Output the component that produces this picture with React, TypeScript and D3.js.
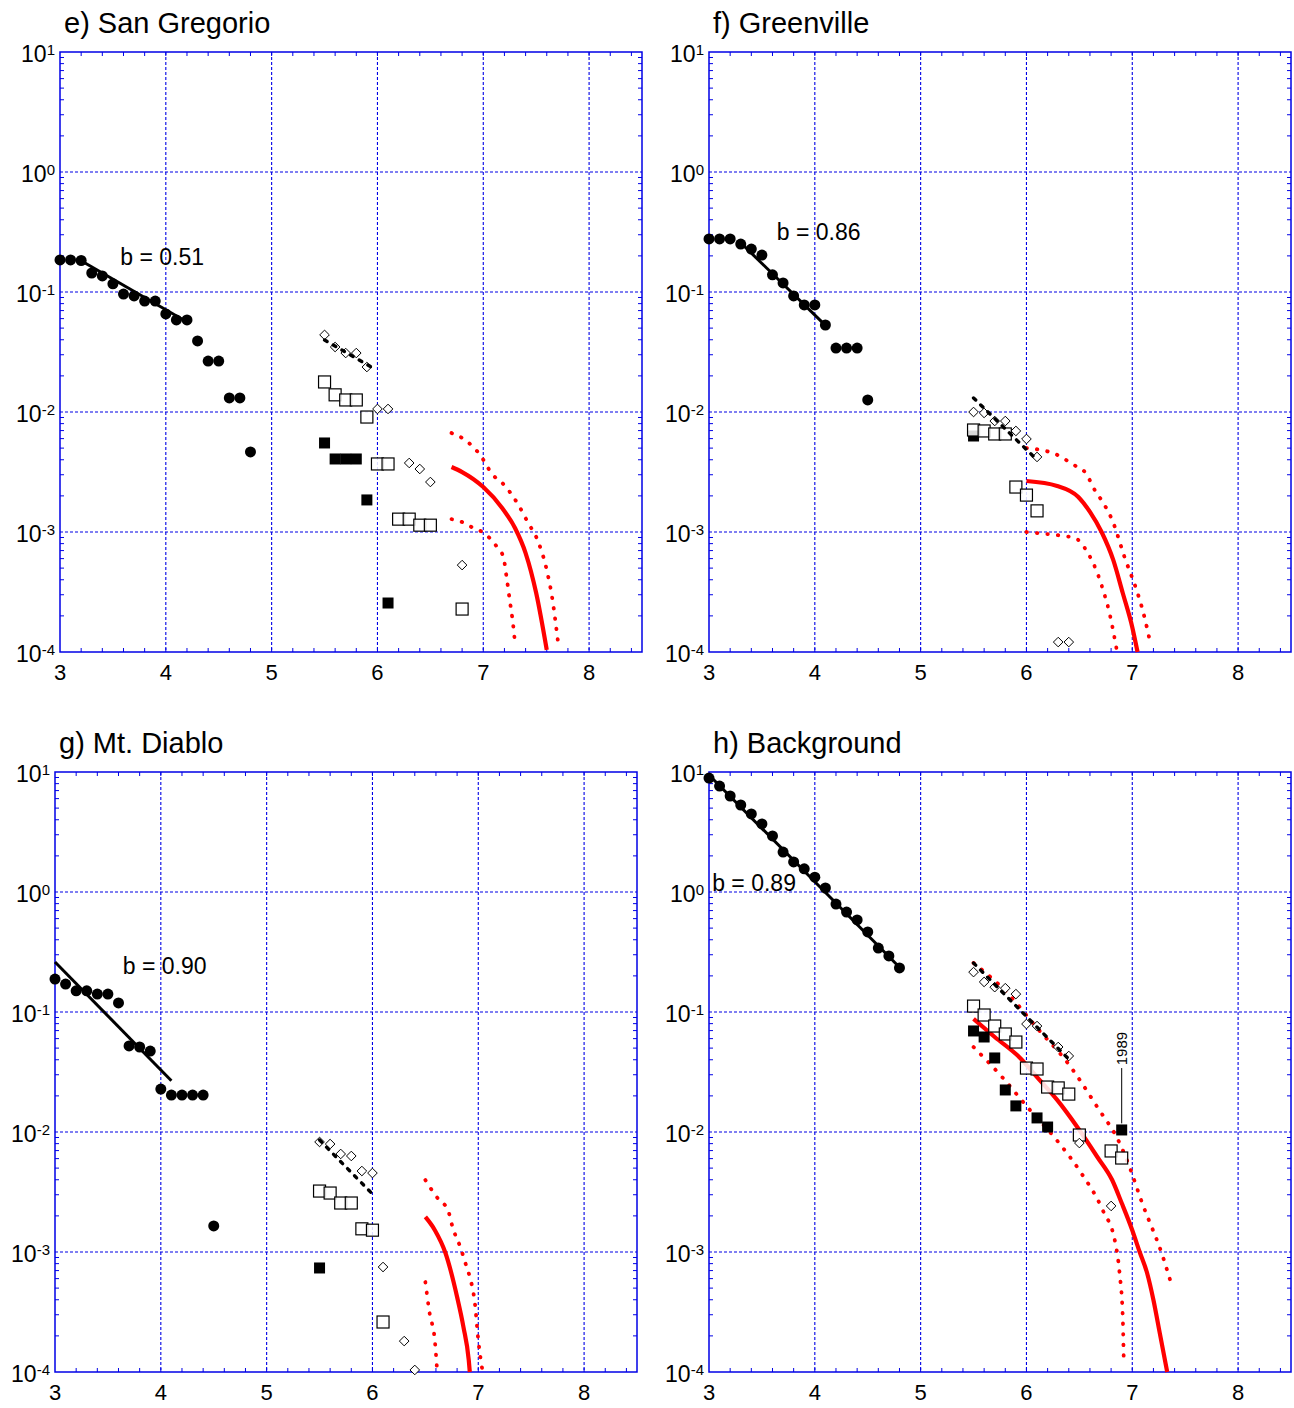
import React, { useEffect, useRef } from 'react';
import * as d3 from 'd3';

// e) San Gregorio
const sgCircM = [3.0, 3.1, 3.2, 3.3, 3.4, 3.5, 3.6, 3.7, 3.8, 3.9, 4.0, 4.1, 4.2, 4.3, 4.4, 4.5, 4.6, 4.7, 4.8];
const sgCircN = [0.185, 0.185, 0.183, 0.144, 0.136, 0.117, 0.0962, 0.0927, 0.0841, 0.0841, 0.0656, 0.0585, 0.0585, 0.0391, 0.0266, 0.0266, 0.0131, 0.0131, 0.00465];
const sgDiaM = [5.5, 5.6, 5.7, 5.8, 5.9, 6.0, 6.1, 6.3, 6.4, 6.5, 6.8];
const sgDiaN = [0.0439, 0.0348, 0.031, 0.031, 0.0237, 0.0106, 0.0106, 0.00376, 0.00335, 0.00261, 0.00053];
const sgOpenM = [5.5, 5.6, 5.7, 5.8, 5.9, 6.0, 6.1, 6.2, 6.3, 6.4, 6.5, 6.8];
const sgOpenN = [0.0178, 0.0139, 0.0126, 0.0126, 0.00908, 0.00369, 0.00369, 0.00128, 0.00128, 0.00114, 0.00114, 0.000228];
const sgFillM = [5.5, 5.6, 5.7, 5.8, 5.9, 6.1];
const sgFillN = [0.00552, 0.00406, 0.00406, 0.00406, 0.00185, 0.000256];
const sgRedM = [6.7, 6.8, 7.0, 7.18, 7.3, 7.4, 7.5, 7.6];
const sgRedN = [0.00348, 0.00316, 0.00237, 0.00158, 0.00108, 0.000668, 0.00031, 0.000104];
const sgUpM = [6.7, 6.8, 6.97, 7.09, 7.18, 7.32, 7.42, 7.52, 7.6, 7.65, 7.71];
const sgUpN = [0.00668, 0.00607, 0.00439, 0.00299, 0.00256, 0.00175, 0.00121, 0.000826, 0.000482, 0.000287, 0.000114];
const sgLoM = [6.7, 6.8, 6.89, 6.99, 7.06, 7.13, 7.19, 7.22, 7.25, 7.28, 7.3];
const sgLoN = [0.00128, 0.00121, 0.0011, 0.001, 0.000891, 0.00075, 0.000619, 0.000422, 0.000271, 0.000175, 0.000119];

// f) Greenville
const gvCircM = [3.0, 3.1, 3.2, 3.3, 3.4, 3.5, 3.6, 3.7, 3.8, 3.9, 4.0, 4.1, 4.2, 4.3, 4.4, 4.5];
const gvCircN = [0.277, 0.277, 0.277, 0.251, 0.228, 0.203, 0.139, 0.119, 0.0927, 0.078, 0.078, 0.0531, 0.0341, 0.0341, 0.0341, 0.0126];
const gvDiaM = [5.5, 5.6, 5.7, 5.8, 5.9, 6.0, 6.1, 6.3, 6.4];
const gvDiaN = [0.01, 0.00982, 0.00841, 0.00841, 0.00695, 0.00596, 0.00422, 0.000121, 0.000121];
const gvOpenM = [5.5, 5.6, 5.7, 5.8, 5.9, 6.0, 6.1];
const gvOpenN = [0.00708, 0.00695, 0.00656, 0.00656, 0.00237, 0.00203, 0.0015];
const gvFillM = [5.5];
const gvFillN = [0.00631];
const gvRedM = [6.0, 6.29, 6.49, 6.6, 6.71, 6.82, 6.91, 7.0, 7.05];
const gvRedN = [0.00266, 0.00242, 0.00196, 0.00147, 0.001, 0.000585, 0.00031, 0.000161, 0.0001];
const gvUpM = [6.0, 6.27, 6.45, 6.56, 6.65, 6.72, 6.81, 6.93, 7.05, 7.09, 7.15, 7.17];
const gvUpN = [0.00501, 0.00447, 0.00361, 0.0031, 0.0022, 0.00178, 0.00126, 0.000607, 0.00031, 0.000237, 0.000144, 0.000119];
const gvLoM = [6.0, 6.1, 6.35, 6.46, 6.58, 6.67, 6.73, 6.78, 6.85];
const gvLoN = [0.001, 0.00098, 0.000927, 0.000891, 0.000668, 0.000455, 0.000316, 0.00022, 0.000108];

// g) Mt. Diablo
const mdCircM = [3.0, 3.1, 3.2, 3.3, 3.4, 3.5, 3.6, 3.7, 3.8, 3.9, 4.0, 4.1, 4.2, 4.3, 4.4, 4.5];
const mdCircN = [0.188, 0.171, 0.15, 0.15, 0.141, 0.141, 0.119, 0.0521, 0.0511, 0.0473, 0.0228, 0.0203, 0.0203, 0.0203, 0.0203, 0.00165];
const mdDiaM = [5.5, 5.6, 5.7, 5.8, 5.9, 6.0, 6.1, 6.3, 6.4];
const mdDiaN = [0.00826, 0.00794, 0.00656, 0.00631, 0.00473, 0.00455, 0.00075, 0.000181, 0.000104];
const mdOpenM = [5.5, 5.6, 5.7, 5.8, 5.9, 6.0, 6.1];
const mdOpenN = [0.00322, 0.0031, 0.00256, 0.00256, 0.00156, 0.00152, 0.000261];
const mdFillM = [5.5];
const mdFillN = [0.000736];
const mdRedM = [6.5, 6.59, 6.69, 6.8, 6.86, 6.91, 6.92];
const mdRedN = [0.00196, 0.00152, 0.000982, 0.000422, 0.000237, 0.000126, 0.0001];
const mdUpM = [6.5, 6.56, 6.63, 6.71, 6.76, 6.83, 6.89, 6.92, 6.97, 7.0, 7.04];
const mdUpN = [0.00398, 0.00329, 0.00271, 0.00228, 0.00158, 0.0011, 0.00075, 0.000619, 0.000361, 0.000185, 0.000102];
const mdLoM = [6.5, 6.54, 6.59, 6.61];
const mdLoN = [0.000562, 0.00031, 0.000181, 0.000106];

// h) Background
const bgCircM = [3.0, 3.1, 3.2, 3.3, 3.4, 3.5, 3.6, 3.7, 3.8, 3.9, 4.0, 4.1, 4.2, 4.3, 4.4, 4.5, 4.6, 4.7, 4.8];
const bgCircN = [8.91, 7.64, 6.31, 5.31, 4.47, 3.69, 2.93, 2.15, 1.78, 1.56, 1.33, 1.08, 0.794, 0.681, 0.585, 0.465, 0.341, 0.293, 0.233];
const bgDiaM = [5.5, 5.6, 5.7, 5.8, 5.9, 6.0, 6.1, 6.3, 6.4, 6.5, 6.8];
const bgDiaN = [0.215, 0.178, 0.161, 0.158, 0.141, 0.0794, 0.0764, 0.0511, 0.043, 0.00809, 0.00242];
const bgOpenM = [5.5, 5.6, 5.7, 5.8, 5.9, 6.0, 6.1, 6.2, 6.3, 6.4, 6.5, 6.8, 6.9];
const bgOpenN = [0.112, 0.0944, 0.0764, 0.0656, 0.0562, 0.0341, 0.0335, 0.0237, 0.0233, 0.0207, 0.00944, 0.00695, 0.00607];
const bgFillM = [5.5, 5.6, 5.7, 5.8, 5.9, 6.1, 6.2, 6.9];
const bgFillN = [0.0695, 0.0619, 0.0414, 0.0224, 0.0165, 0.0131, 0.011, 0.0104];
const bgRedM = [5.5, 5.7, 5.94, 6.1, 6.29, 6.48, 6.67, 6.81, 6.9, 7.0, 7.07, 7.14, 7.2, 7.26, 7.33];
const bgRedN = [0.0875, 0.0619, 0.0414, 0.0287, 0.0185, 0.011, 0.00619, 0.00398, 0.00256, 0.00152, 0.001, 0.000668, 0.000398, 0.000211, 0.0001];
const bgUpM = [5.5, 5.82, 6.1, 6.39, 6.67, 6.88, 6.96, 7.09, 7.29, 7.38];
const bgUpN = [0.256, 0.144, 0.0736, 0.0376, 0.0161, 0.00809, 0.00552, 0.00261, 0.000908, 0.000501];
const bgLoM = [5.5, 5.77, 6.01, 6.3, 6.51, 6.72, 6.84, 6.88, 6.91, 6.92];
const bgLoN = [0.0511, 0.0287, 0.0161, 0.00826, 0.00465, 0.00224, 0.00119, 0.000668, 0.000287, 0.000119];

const xTickVals = [3, 4, 5, 6, 7, 8];
const yTickVals = [1e-4, 1e-3, 1e-2, 1e-1, 1, 10];
const yTickExp = ['-4', '-3', '-2', '-1', '0', '1'];

const W = 1294;
const H = 1408;
const PW = 582;
const PH = 600;
const FONT = 'Arial, "Liberation Sans", Helvetica, sans-serif';
const BLUE = '#0000e6';
const RED = '#ff0000';

const panels = [
  {
    title: 'e) San Gregorio', left: 60, top: 52,
    circ: [sgCircM, sgCircN], dia: [sgDiaM, sgDiaN], open: [sgOpenM, sgOpenN], fill: [sgFillM, sgFillN],
    red: [sgRedM, sgRedN], up: [sgUpM, sgUpN], lo: [sgLoM, sgLoN],
    fit: { a: 0.892, b: 0.51, from: 3.2, to: 4.2 }, ext: { a: 1.405, b: 0.51, from: 5.5, to: 5.95 },
    label: { text: 'b = 0.51', m: 3.57, n: 0.168 },
  },
  {
    title: 'f) Greenville', left: 709, top: 52,
    circ: [gvCircM, gvCircN], dia: [gvDiaM, gvDiaN], open: [gvOpenM, gvOpenN], fill: [gvFillM, gvFillN],
    red: [gvRedM, gvRedN], up: [gvUpM, gvUpN], lo: [gvLoM, gvLoN],
    fit: { a: 2.248, b: 0.86, from: 3.3, to: 4.1 }, ext: { a: 2.847, b: 0.86, from: 5.5, to: 6.1 },
    label: { text: 'b = 0.86', m: 3.64, n: 0.271 },
  },
  {
    title: 'g) Mt. Diablo', left: 55, top: 772,
    circ: [mdCircM, mdCircN], dia: [mdDiaM, mdDiaN], open: [mdOpenM, mdOpenN], fill: [mdFillM, mdFillN],
    red: [mdRedM, mdRedN], up: [mdUpM, mdUpN], lo: [mdLoM, mdLoN],
    fit: { a: 2.117, b: 0.9, from: 3.0, to: 4.1 }, ext: { a: 2.883, b: 0.9, from: 5.5, to: 6.0 },
    label: { text: 'b = 0.90', m: 3.64, n: 0.207 },
  },
  {
    title: 'h) Background', left: 709, top: 772,
    circ: [bgCircM, bgCircN], dia: [bgDiaM, bgDiaN], open: [bgOpenM, bgOpenN], fill: [bgFillM, bgFillN],
    red: [bgRedM, bgRedN], up: [bgUpM, bgUpN], lo: [bgLoM, bgLoN],
    fit: { a: 3.645, b: 0.89, from: 3.0, to: 4.8 }, ext: { a: 4.303, b: 0.89, from: 5.5, to: 6.4 },
    label: { text: 'b = 0.89', m: 3.03, n: 1.02 },
    note: { text: '1989', m: 6.9, from: 0.0118, to: 0.0341, textAt: 0.036 },
  },
];

function zip(arr: number[][]): [number, number][] {
  return arr[0].map((m, i) => [m, arr[1][i]] as [number, number]);
}

function drawPanel(svg: any, p: any) {
  const g = svg.append('g').attr('transform', `translate(${p.left},${p.top})`);
  const x = d3.scaleLinear().domain([3, 8.5]).range([0, PW]);
  const y = d3.scaleLog().domain([1e-4, 10]).range([PH, 0]);

  // grid
  g.selectAll(null).data(xTickVals.slice(1)).enter().append('line')
    .attr('x1', (d: number) => x(d)).attr('x2', (d: number) => x(d))
    .attr('y1', 0).attr('y2', PH)
    .attr('stroke', BLUE).attr('stroke-width', 1.1).attr('stroke-dasharray', '3,2');
  g.selectAll(null).data(yTickVals.slice(1, -1)).enter().append('line')
    .attr('x1', 0).attr('x2', PW)
    .attr('y1', (d: number) => y(d)).attr('y2', (d: number) => y(d))
    .attr('stroke', BLUE).attr('stroke-width', 1.1).attr('stroke-dasharray', '3,2');

  // frame
  g.append('rect').attr('width', PW).attr('height', PH)
    .attr('fill', 'none').attr('stroke', BLUE).attr('stroke-width', 1.5);

  // x ticks every 0.2, top and bottom, inward
  const xMinor = d3.range(16, 43).map((k) => k / 5).filter((v) => v > 3 && v < 8.5);
  xMinor.forEach((v) => {
    g.append('line').attr('x1', x(v)).attr('x2', x(v)).attr('y1', PH).attr('y2', PH - 4)
      .attr('stroke', BLUE).attr('stroke-width', 1);
    g.append('line').attr('x1', x(v)).attr('x2', x(v)).attr('y1', 0).attr('y2', 4)
      .attr('stroke', BLUE).attr('stroke-width', 1);
  });

  // y minor ticks, left and right, inward
  [1e-4, 1e-3, 1e-2, 1e-1, 1].forEach((dec) => {
    d3.range(2, 10).forEach((k) => {
      const yy = y(dec * k);
      g.append('line').attr('x1', 0).attr('x2', 4).attr('y1', yy).attr('y2', yy)
        .attr('stroke', BLUE).attr('stroke-width', 1);
      g.append('line').attr('x1', PW).attr('x2', PW - 4).attr('y1', yy).attr('y2', yy)
        .attr('stroke', BLUE).attr('stroke-width', 1);
    });
  });

  // tick labels
  g.selectAll(null).data(xTickVals).enter().append('text')
    .attr('x', (d: number) => x(d)).attr('y', PH + 28)
    .attr('text-anchor', 'middle').attr('font-size', 22).attr('font-family', FONT)
    .text((d: number) => String(d));
  yTickVals.forEach((v, i) => {
    const t = g.append('text').attr('x', -5).attr('y', y(v) + 10)
      .attr('text-anchor', 'end').attr('font-size', 23).attr('font-family', FONT);
    t.append('tspan').text('10');
    t.append('tspan').attr('dy', -7).attr('font-size', 15).text(yTickExp[i]);
  });

  // title
  g.append('text').attr('x', 4).attr('y', -19).attr('font-size', 29).attr('font-family', FONT)
    .text(p.title);

  const line = d3.line<[number, number]>().x((d) => x(d[0])).y((d) => y(d[1])).curve(d3.curveMonotoneX);
  const straight = d3.line<[number, number]>().x((d) => x(d[0])).y((d) => y(d[1]));

  // red model curves
  [p.up, p.lo].forEach((s: number[][]) => {
    g.append('path').attr('d', line(zip(s))).attr('fill', 'none').attr('stroke', RED)
      .attr('stroke-width', 3.8).attr('stroke-dasharray', '0.5,10').attr('stroke-linecap', 'round');
  });
  g.append('path').attr('d', line(zip(p.red))).attr('fill', 'none').attr('stroke', RED)
    .attr('stroke-width', 4.2).attr('stroke-linejoin', 'round');

  // b-value fit line
  const fitPts: [number, number][] = [p.fit.from, p.fit.to].map((m: number) => [m, Math.pow(10, p.fit.a - p.fit.b * m)]);
  g.append('path').attr('d', straight(fitPts)).attr('fill', 'none').attr('stroke', '#000').attr('stroke-width', 3);

  // filled squares
  g.selectAll(null).data(zip(p.fill)).enter().append('rect')
    .attr('x', (d: [number, number]) => x(d[0]) - 5.5).attr('y', (d: [number, number]) => y(d[1]) - 5.5)
    .attr('width', 11).attr('height', 11).attr('fill', '#000');
  // open squares
  g.selectAll(null).data(zip(p.open)).enter().append('rect')
    .attr('x', (d: [number, number]) => x(d[0]) - 6).attr('y', (d: [number, number]) => y(d[1]) - 6)
    .attr('width', 12).attr('height', 12).attr('fill', '#fff').attr('fill-opacity', 0.85)
    .attr('stroke', '#000').attr('stroke-width', 1.2);
  // diamonds
  g.selectAll(null).data(zip(p.dia)).enter().append('path')
    .attr('d', (d: [number, number]) => {
      const cx = x(d[0]);
      const cy = y(d[1]);
      const r = 4.8;
      return `M${cx},${cy - r}L${cx + r},${cy}L${cx},${cy + r}L${cx - r},${cy}Z`;
    })
    .attr('fill', '#fff').attr('stroke', '#000').attr('stroke-width', 1);

  // extrapolated b-value line
  const extPts: [number, number][] = [p.ext.from, p.ext.to].map((m: number) => [m, Math.pow(10, p.ext.a - p.ext.b * m)]);
  g.append('path').attr('d', straight(extPts)).attr('fill', 'none').attr('stroke', '#000')
    .attr('stroke-width', 3.4).attr('stroke-dasharray', '3,7').attr('stroke-linecap', 'round');

  // circles
  g.selectAll(null).data(zip(p.circ)).enter().append('circle')
    .attr('cx', (d: [number, number]) => x(d[0])).attr('cy', (d: [number, number]) => y(d[1]))
    .attr('r', 5.5).attr('fill', '#000');

  // b label
  g.append('text').attr('x', x(p.label.m)).attr('y', y(p.label.n))
    .attr('font-size', 23).attr('font-family', FONT).text(p.label.text);

  if (p.note) {
    const nx = x(p.note.m);
    g.append('line').attr('x1', nx).attr('x2', nx).attr('y1', y(p.note.from)).attr('y2', y(p.note.to))
      .attr('stroke', '#000').attr('stroke-width', 1);
    g.append('text').attr('transform', `translate(${nx + 5},${y(p.note.textAt)}) rotate(-90)`)
      .attr('font-size', 15).attr('font-family', FONT).text(p.note.text);
  }
}

export default function App() {
  const ref = useRef<SVGSVGElement>(null);

  useEffect(() => {
    const svg = d3.select(ref.current);
    svg.selectAll('*').remove();
    svg.append('rect').attr('width', W).attr('height', H).attr('fill', '#fff');
    panels.forEach((p) => drawPanel(svg, p));
  }, []);

  return (
    <svg
      ref={ref}
      width={W}
      height={H}
      style={{ position: 'absolute', left: 0, top: 0, display: 'block' }}
    />
  );
}
